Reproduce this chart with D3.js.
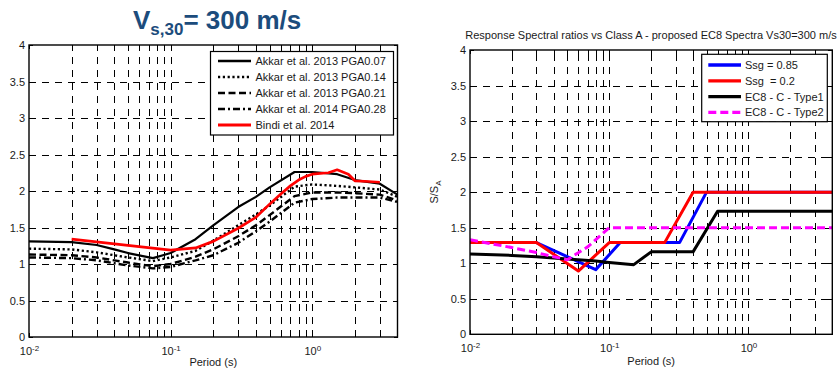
<!DOCTYPE html>
<html>
<head>
<meta charset="utf-8">
<script src="https://cdn.jsdelivr.net/npm/d3@7"></script>
<style>
  body { margin: 0; background: #fff; }
  svg { display: block; }
  text { font-family: "Liberation Sans", Arial, sans-serif; fill: #000; white-space: pre; }
</style>
</head>
<body>
<svg id="fig" width="837" height="372"></svg>
<script>
// ---------- data ----------
// Left panel: site amplification ratios (Vs30 = 300 m/s) from GMPEs
const akkarPeriods = [0.01, 0.02, 0.03, 0.04, 0.05, 0.075, 0.1, 0.15, 0.2, 0.3, 0.4, 0.5, 0.75, 1, 1.5, 2, 3, 4];
const akkarPGA007 = [1.31, 1.30, 1.26, 1.20, 1.15, 1.08, 1.15, 1.34, 1.53, 1.78, 1.92, 2.05, 2.26, 2.26, 2.23, 2.15, 2.10, 1.95];
const akkarPGA014 = [1.21, 1.20, 1.16, 1.12, 1.09, 1.04, 1.09, 1.18, 1.32, 1.53, 1.68, 1.80, 2.06, 2.09, 2.07, 2.05, 2.02, 1.92];
const akkarPGA021 = [1.13, 1.12, 1.09, 1.05, 1.02, 0.97, 1.00, 1.10, 1.20, 1.38, 1.53, 1.67, 1.93, 1.98, 1.98, 1.97, 1.95, 1.87];
const akkarPGA028 = [1.09, 1.08, 1.05, 1.01, 0.98, 0.94, 0.96, 1.05, 1.12, 1.29, 1.45, 1.58, 1.84, 1.89, 1.91, 1.91, 1.91, 1.85];
const bindiPeriods = [0.02, 0.1, 0.15, 0.2, 0.3, 0.4, 0.5, 0.6, 0.7, 0.8, 0.9, 1.0, 1.3, 1.5, 1.8, 2.0, 2.5, 3.0];
const bindiRatio   = [1.34, 1.19, 1.22, 1.31, 1.49, 1.64, 1.82, 1.96, 2.07, 2.15, 2.20, 2.23, 2.25, 2.29, 2.23, 2.14, 2.13, 2.12];
const leftNames = ["Akkar et al. 2013 PGA0.07", "Akkar et al. 2013 PGA0.14", "Akkar et al. 2013 PGA0.21",
                   "Akkar et al. 2014 PGA0.28", "Bindi et al. 2014"];

// Right panel: spectral ratios vs class A and proposed EC8 spectra
const ssg085Periods = [0.01, 0.03, 0.08, 0.12, 0.32, 0.5, 4];
const ssg085Ratio   = [1.29, 1.29, 0.91, 1.29, 1.29, 2.0, 2.0];
const ssg02Periods  = [0.01, 0.03, 0.06, 0.1, 0.25, 0.4, 4];
const ssg02Ratio    = [1.29, 1.29, 0.89, 1.29, 1.29, 2.0, 2.0];
const ec8T1Periods  = [0.01, 0.02, 0.03, 0.05, 0.08, 0.1, 0.15, 0.2, 0.4, 0.6, 4];
const ec8T1Ratio    = [1.13, 1.11, 1.09, 1.06, 1.03, 1.01, 0.98, 1.16, 1.16, 1.73, 1.73];
const ec8T2Periods  = [0.01, 0.02, 0.03, 0.04, 0.05, 0.07, 0.1, 4];
const ec8T2Ratio    = [1.33, 1.22, 1.15, 1.09, 1.05, 1.23, 1.5, 1.5];
const rightNames = ["Ssg = 0.85", "Ssg  = 0.2", "EC8 - C - Type1", "EC8 - C - Type2"];

// axis ticks
const decadeTicks = [0.01, 0.1, 1];
const gridPeriods = [0.02, 0.03, 0.04, 0.05, 0.06, 0.07, 0.08, 0.09, 0.1,
                     0.2, 0.3, 0.4, 0.5, 0.6, 0.7, 0.8, 0.9, 1, 2, 3];
const yTicks = [0, 0.5, 1, 1.5, 2, 2.5, 3, 3.5, 4];
const yGrid = [0.5, 1, 1.5, 2, 2.5, 3, 3.5];

// ---------- drawing ----------
const svg = d3.select("#fig");
const GRID_DASH = "7,6";

function zip(xs, ys) { return xs.map((p, i) => [p, ys[i]]); }

function drawPanel(cfg) {
  const { x0, x1, y0, y1, id } = cfg;
  const x = d3.scaleLog().domain([0.01, 4]).range([x0, x1]);
  const y = d3.scaleLinear().domain([0, 4]).range([y1, y0]);
  const g = svg.append("g");

  // dashed grid
  g.append("g")
    .attr("transform", `translate(0,${y1})`)
    .call(d3.axisBottom(x).tickValues(gridPeriods).tickSize(-(y1 - y0)).tickFormat(""))
    .call(s => s.select(".domain").remove())
    .selectAll("line")
    .attr("stroke", "#000").attr("stroke-width", 1)
    .attr("stroke-dasharray", GRID_DASH).attr("shape-rendering", "crispEdges");
  g.append("g")
    .attr("transform", `translate(${x0},0)`)
    .call(d3.axisLeft(y).tickValues(yGrid).tickSize(-(x1 - x0)).tickFormat(""))
    .call(s => s.select(".domain").remove())
    .selectAll("line")
    .attr("stroke", "#000").attr("stroke-width", 1)
    .attr("stroke-dasharray", GRID_DASH).attr("shape-rendering", "crispEdges");

  // small inward ticks on all sides
  const tickLen = 4;
  [[d3.axisBottom(x), y1, -tickLen], [d3.axisTop(x), y0, -tickLen]].forEach(([ax, ty, len]) => {
    g.append("g").attr("transform", `translate(0,${ty})`)
      .call(ax.tickValues(gridPeriods.concat(decadeTicks)).tickSize(len).tickFormat(""))
      .call(s => s.select(".domain").remove())
      .selectAll("line").attr("stroke", "#000").attr("shape-rendering", "crispEdges");
  });
  [[d3.axisLeft(y), x0, -tickLen], [d3.axisRight(y), x1, -tickLen]].forEach(([ax, tx, len]) => {
    g.append("g").attr("transform", `translate(${tx},0)`)
      .call(ax.tickValues(yTicks).tickSize(len).tickFormat(""))
      .call(s => s.select(".domain").remove())
      .selectAll("line").attr("stroke", "#000").attr("shape-rendering", "crispEdges");
  });

  // y tick labels
  g.append("g")
    .attr("transform", `translate(${x0},0)`)
    .call(d3.axisLeft(y).tickValues(yTicks).tickSize(0).tickPadding(cfg.yPad).tickFormat(d => String(d)))
    .call(s => s.select(".domain").remove())
    .selectAll("text")
    .attr("font-family", null)
    .style("font-size", "11px").style("fill", "#1a1a1a");

  // x tick labels: 10^n
  const xl = g.append("g")
    .attr("transform", `translate(0,${y1})`)
    .call(d3.axisBottom(x).tickValues(decadeTicks).tickSize(0).tickFormat(""));
  xl.select(".domain").remove();
  xl.selectAll(".tick text").each(function(d) {
    const t = d3.select(this).attr("y", cfg.xLabOff).attr("dy", null)
      .attr("text-anchor", "middle").style("font-size", "11px").style("fill", "#1a1a1a");
    t.append("tspan").text("10");
    t.append("tspan").attr("dy", -4).style("font-size", "8px").text(String(Math.round(Math.log10(d))));
  });

  // axis title
  g.append("text")
    .attr("x", (x0 + x1) / 2).attr("y", cfg.xTitleY)
    .attr("text-anchor", "middle").style("font-size", "11px").style("fill", "#1a1a1a")
    .text("Period (s)");

  // series
  const clipId = "clip-" + id;
  svg.append("clipPath").attr("id", clipId)
    .append("rect").attr("x", x0).attr("y", y0).attr("width", x1 - x0).attr("height", y1 - y0);
  const line = d3.line().x(d => x(d[0])).y(d => y(d[1]));
  const sg = g.append("g").attr("clip-path", `url(#${clipId})`);
  cfg.series.forEach(s => {
    sg.append("path")
      .attr("d", line(s.pts))
      .attr("fill", "none").attr("stroke", s.color).attr("stroke-width", s.width)
      .attr("stroke-dasharray", s.dash || null)
      .attr("stroke-linejoin", "round");
  });

  // legend
  const L = cfg.legend;
  const lg = g.append("g");
  lg.append("rect")
    .attr("x", L.x).attr("y", L.y).attr("width", L.w).attr("height", L.h)
    .attr("fill", "#fff").attr("stroke", "#000").attr("stroke-width", 1.2);
  cfg.series.forEach((s, i) => {
    const cy = L.row0 + i * L.step;
    lg.append("line")
      .attr("x1", L.lx0).attr("x2", L.lx1).attr("y1", cy).attr("y2", cy)
      .attr("stroke", s.color).attr("stroke-width", s.width + 0.3)
      .attr("stroke-dasharray", s.dash || null);
    lg.append("text")
      .attr("x", L.tx).attr("y", cy).attr("dy", "0.36em")
      .style("font-size", "11px").style("fill", "#1a1a1a")
      .text(s.name);
  });

  // axes box
  g.append("rect")
    .attr("x", x0).attr("y", y0).attr("width", x1 - x0).attr("height", y1 - y0)
    .attr("fill", "none").attr("stroke", "#000").attr("stroke-width", 1.4);

  return { x, y, g };
}

// left panel
drawPanel({
  id: "gmpe", x0: 29, x1: 397.5, y0: 45, y1: 337, yPad: 4, xLabOff: 18, xTitleY: 366,
  series: [
    { name: leftNames[0], pts: zip(akkarPeriods, akkarPGA007), color: "#000", width: 2.2 },
    { name: leftNames[1], pts: zip(akkarPeriods, akkarPGA014), color: "#000", width: 2.4, dash: "2.2,2.6" },
    { name: leftNames[2], pts: zip(akkarPeriods, akkarPGA021), color: "#000", width: 2.4, dash: "7,3.5" },
    { name: leftNames[3], pts: zip(akkarPeriods, akkarPGA028), color: "#000", width: 2.4, dash: "7,3,2,3" },
    { name: leftNames[4], pts: zip(bindiPeriods, bindiRatio), color: "#ff0000", width: 2.7 }
  ],
  legend: { x: 210.5, y: 51.5, w: 183, h: 83.5, row0: 61, step: 16, lx0: 218, lx1: 251, tx: 255.5 }
});

// right panel
drawPanel({
  id: "ec8", x0: 470, x1: 832.3, y0: 50, y1: 334.3, yPad: 4, xLabOff: 17.7, xTitleY: 364.5,
  series: [
    { name: rightNames[0], pts: zip(ssg085Periods, ssg085Ratio), color: "#0000ff", width: 3 },
    { name: rightNames[1], pts: zip(ssg02Periods, ssg02Ratio), color: "#ff0000", width: 3 },
    { name: rightNames[2], pts: zip(ec8T1Periods, ec8T1Ratio), color: "#000", width: 3 },
    { name: rightNames[3], pts: zip(ec8T2Periods, ec8T2Ratio), color: "#ff00ff", width: 3, dash: "8,4" }
  ],
  legend: { x: 701.7, y: 54.3, w: 125.6, h: 67.4, row0: 65, step: 15.8, lx0: 708.3, lx1: 741, tx: 745 }
});

// right panel title and y label
svg.append("text")
  .attr("x", 651).attr("y", 38.5).attr("text-anchor", "middle")
  .style("font-size", "11px").style("fill", "#1a1a1a")
  .text("Response Spectral ratios vs Class A - proposed EC8 Spectra Vs30=300 m/s");

const yl = svg.append("text")
  .attr("transform", "translate(438,192) rotate(-90)")
  .attr("text-anchor", "middle")
  .style("font-size", "11px").style("fill", "#1a1a1a");
yl.append("tspan").text("S/S");
yl.append("tspan").attr("dy", 3).style("font-size", "8px").text("A");

// left panel heading
const head = svg.append("text")
  .attr("x", 133).attr("y", 28.5)
  .style("font-weight", "bold").style("fill", "#1c4c7c");
head.append("tspan").style("font-size", "26px").text("V");
head.append("tspan").attr("dy", 6.5).style("font-size", "17px").text("s,30");
head.append("tspan").attr("dy", -6.5).style("font-size", "26px").text("= 300 m/s");
</script>
</body>
</html>
